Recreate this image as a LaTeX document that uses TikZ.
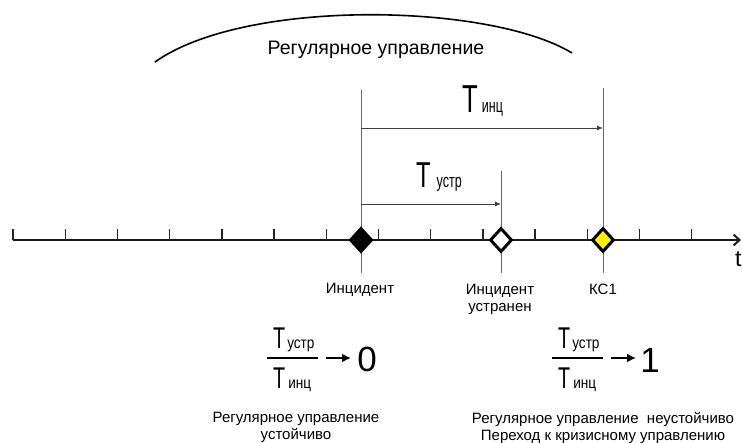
\documentclass[tikz,border=0pt]{standalone}
\usepackage{fontspec}
\setmainfont{Liberation Sans}
\usetikzlibrary{arrows.meta,shapes.geometric}

% narrow "T" with a subscript-like suffix sitting on the baseline
\newcommand\tlab[5]{%
  \scalebox{0.66}[1]{\fontsize{#1}{#1}\selectfont T}\hspace{#4pt}%
  \scalebox{#5}[1]{\fontsize{#2}{#2}\selectfont #3}}

\begin{document}
\begin{tikzpicture}[x=1pt,y=-1pt,
  axisline/.style={line width=2pt,black!90},
  tickmark/.style={line width=1.4pt,black!85},
  guide/.style={line width=0.9pt,black!60},
  span/.style={line width=0.9pt,black!75,-{Latex[length=6pt,width=5pt]}},
  event/.style={diamond,draw=black,line width=3pt,inner sep=0pt,
    minimum width=22pt,minimum height=24pt},
  lbl/.style={font=\fontsize{15}{17}\selectfont,inner sep=0pt,align=center},
  bar/.style={line width=2pt,black},
  limarrow/.style={line width=2pt,black,-{Latex[length=9pt,width=9pt]}},
]
\useasboundingbox (0,0) rectangle (742,443);

% regular-control arc and caption
\draw[line width=1.6pt] (155,62) .. controls (245,-2) and (490,3) .. (572,53);
\node[anchor=base,inner sep=0pt,font=\fontsize{19.5}{22}\selectfont] (reg) at (376,55) {Регулярное управление};

% guide lines through the events
\coordinate (incTop) at (361,90);
\coordinate (incBot) at (361,273);
\coordinate (fixTop) at (501,171);
\coordinate (fixBot) at (501,273);
\coordinate (kcTop) at (603,88);
\coordinate (kcBot) at (603,273);
\draw[guide] (incTop) -- (incBot);
\draw[guide] (fixTop) -- (fixBot);
\draw[guide] (kcTop) -- (kcBot);

% durations
\coordinate (incA) at (361,128);
\coordinate (kcA) at (603,128);
\coordinate (incB) at (361,204);
\coordinate (fixB) at (501,204);
\draw[span] (incA) -- (kcA);
\draw[span] (incB) -- (fixB);
\node[anchor=base west,inner sep=0pt] (tinc) at (462,113) {\tlab{39}{19}{инц}{4}{0.66}};
\node[anchor=base west,inner sep=0pt] (tfix) at (416,188) {\tlab{36}{19}{устр}{6}{0.66}};

% time axis
\coordinate (axL) at (13,240);
\coordinate (axR) at (741,240);
\draw[axisline,-{Straight Barb[length=6pt,width=11pt]}] (axL) -- (axR);
\foreach \k in {0,...,13}{
  \draw[tickmark] (13+52.2*\k,240.5) -- (13+52.2*\k,229);
}
\node[anchor=base west,inner sep=0pt,font=\fontsize{23}{23}\selectfont] (tt) at (735,267) {t};

% events
\node[event,fill=black] (inc) at (361,240) {};
\node[event,fill=white] (fix) at (501,240) {};
\node[event,fill=yellow] (kc) at (603,240) {};

\node[lbl,anchor=base] (incL) at (360,294) {Инцидент};
\node[lbl,anchor=north] (fixL) at (500,284) {Инцидент\\устранен};
\node[lbl,anchor=base] (kcL) at (603,295) {КС1};

% ratio tends to 0
\node[anchor=base west,inner sep=0pt] (n0) at (273,349) {\tlab{30}{16}{устр}{2}{0.85}};
\node[anchor=base west,inner sep=0pt] (d0) at (273,389) {\tlab{30}{16}{инц}{3}{0.85}};
\coordinate (b0L) at (267,358);
\coordinate (b0R) at (318,358);
\draw[bar] (b0L) -- (b0R);
\coordinate (a0L) at (326,358);
\coordinate (a0R) at (351,358);
\draw[limarrow] (a0L) -- (a0R);
\node[anchor=base,inner sep=0pt,font=\fontsize{35}{35}\selectfont] (zero) at (367,372) {0};

% ratio tends to 1
\node[anchor=base west,inner sep=0pt] (n1) at (558,349) {\tlab{30}{16}{устр}{2}{0.85}};
\node[anchor=base west,inner sep=0pt] (d1) at (558,389) {\tlab{30}{16}{инц}{3}{0.85}};
\coordinate (b1L) at (552,358);
\coordinate (b1R) at (603,358);
\draw[bar] (b1L) -- (b1R);
\coordinate (a1L) at (611,358);
\coordinate (a1R) at (636,358);
\draw[limarrow] (a1L) -- (a1R);
\node[anchor=base,inner sep=0pt,font=\fontsize{35}{35}\selectfont] (one) at (650,373) {1};

% conclusions
\node[lbl,anchor=north] (stable) at (296,412) {Регулярное управление\\устойчиво};
\node[lbl,anchor=north] (unstable) at (603,412) {Регулярное управление\ \ неустойчиво\\Переход к кризисному управлению};
\end{tikzpicture}
\end{document}
